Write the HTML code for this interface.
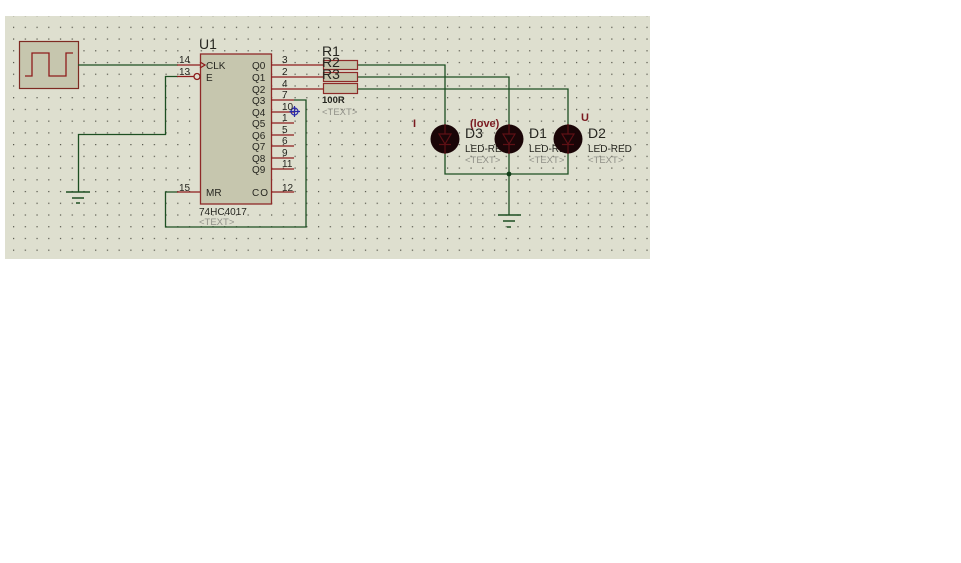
<!DOCTYPE html>
<html><head><meta charset="utf-8"><style>
html,body{margin:0;padding:0;background:#fff;width:961px;height:563px;overflow:hidden}
svg{display:block}
text{font-family:"Liberation Sans",sans-serif}
</style></head><body>
<svg width="961" height="563" viewBox="0 0 961 563" xmlns="http://www.w3.org/2000/svg">
<defs><pattern id="d" x="13" y="15" width="11.73" height="11.73" patternUnits="userSpaceOnUse"><rect width="1.2" height="1.2" fill="#3a3a30" opacity="0.85"/></pattern></defs>
<rect x="5" y="16" width="645" height="243" fill="#dedfcf"/>
<rect x="5" y="16" width="645" height="243" fill="url(#d)"/>

<!-- generator -->
<rect x="19.5" y="41.5" width="59" height="47" fill="#c6c6ae" stroke="#7e2a22" stroke-width="1.2"/>
<path d="M25 76H32V53H49V76H66V53H73" fill="none" stroke="#8e1c1c" stroke-width="1.3"/>

<!-- green wires -->
<g fill="none" stroke="#1d4f22" stroke-width="1.3">
<path d="M78 65H178"/>
<path d="M178 76.500H165.500V134.500H78.500V192"/>
<path d="M66 192H90M72 198H84M76 203H80" stroke-width="1.5"/>
<path d="M294 100H306V227H165.500V192H178"/>
<path d="M357 65H445V126M357 77H509V126M357 89H568V126"/>
<path d="M445 152V174H568V152M509 152V215"/>
<path d="M498 215H521M503 221H515M507 227H511" stroke-width="1.5"/>
</g>
<circle cx="509" cy="174" r="2.400" fill="#12401a"/>

<!-- U1 -->
<rect x="200.500" y="54" width="71" height="150" fill="#c6c6ae" stroke="#8e2a28" stroke-width="1.300"/>
<g fill="none" stroke="#8e1c1c" stroke-width="1.300">
<path d="M177 65H200M177 76.500H194M177 192H200"/>
<circle cx="197" cy="76.500" r="3" fill="#dedfcf"/>
<path d="M200 62L205 65L200 68"/>
<path d="M271 65H323M271 77H323M271 89H323M271 100H294M271 112H294M271 123H294M271 135H294M271 146H294M271 158H294M271 169H294M271 192H294"/>
</g>

<!-- resistors -->
<g fill="#c6c6ae" stroke="#8e2a28" stroke-width="1.200">
<rect x="323.500" y="60.500" width="34" height="9"/>
<rect x="323.500" y="72.500" width="34" height="9"/>
<rect x="323.500" y="83.500" width="34" height="10"/>
</g>

<!-- cursor -->
<g fill="none" stroke="#2a2aa8" stroke-width="1.200">
<circle cx="294.500" cy="111.500" r="3.500"/>
<path d="M294.500 106V117M289.500 111.500H300"/>
</g>

<!-- labels -->
<g fill="#262620" font-size="14">
<text x="199" y="49">U1</text>
<text x="322" y="56">R1</text>
<text x="322" y="67">R2</text>
<text x="322" y="79">R3</text>
<text x="465" y="138">D3</text>
<text x="529" y="138">D1</text>
<text x="588" y="138">D2</text>
</g>
<g fill="#262620" font-size="10">
<text x="206" y="69">CLK</text>
<text x="206" y="81">E</text>
<text x="252" y="69">Q0</text>
<text x="252" y="81">Q1</text>
<text x="252" y="93">Q2</text>
<text x="252" y="104">Q3</text>
<text x="252" y="116">Q4</text>
<text x="252" y="127">Q5</text>
<text x="252" y="139">Q6</text>
<text x="252" y="150">Q7</text>
<text x="252" y="162">Q8</text>
<text x="252" y="173">Q9</text>
<text x="252" y="196" letter-spacing="1">CO</text>
<text x="206" y="196">MR</text>
<text x="179" y="63">14</text>
<text x="179" y="75">13</text>
<text x="179" y="191">15</text>
<text x="282" y="63">3</text>
<text x="282" y="75">2</text>
<text x="282" y="87">4</text>
<text x="282" y="98">7</text>
<text x="282" y="110">10</text>
<text x="282" y="121">1</text>
<text x="282" y="133">5</text>
<text x="282" y="144">6</text>
<text x="282" y="156">9</text>
<text x="282" y="167">11</text>
<text x="282" y="191">12</text>
<text x="199" y="215">74HC4017</text>
<text x="322" y="103" font-size="9.500" font-weight="bold">100R</text>
<text x="465" y="152">LED-RED</text>
<text x="529" y="152">LED-RED</text>
<text x="588" y="152">LED-RED</text>
</g>
<g fill="#909088" font-size="9.500">
<text x="199" y="225">&lt;TEXT&gt;</text>
<text x="322" y="115">&lt;TEXT&gt;</text>
<text x="465" y="163">&lt;TEXT&gt;</text>
<text x="529" y="163">&lt;TEXT&gt;</text>
<text x="588" y="163">&lt;TEXT&gt;</text>
</g>

<!-- LEDs (drawn over the labels) -->
<circle cx="445" cy="139" r="14.500" fill="#1a0507"/>
<circle cx="509" cy="139" r="14.500" fill="#1a0507"/>
<circle cx="568" cy="139" r="14.500" fill="#1a0507"/>
<g fill="none" stroke="#5e1015" stroke-width="1.200">
<path d="M445 124V134M445 144V154M439 134H451L445 144ZM439 144.500H451"/>
<path d="M509 124V134M509 144V154M503 134H515L509 144ZM503 144.500H515"/>
<path d="M568 124V134M568 144V154M562 134H574L568 144ZM562 144.500H574"/>
</g>

<g fill="#7a1a20" font-size="11" font-weight="bold">
<text x="413" y="127">I</text>
<text x="470" y="127">(love)</text>
<text x="581" y="121">U</text>
</g>
</svg>
</body></html>
